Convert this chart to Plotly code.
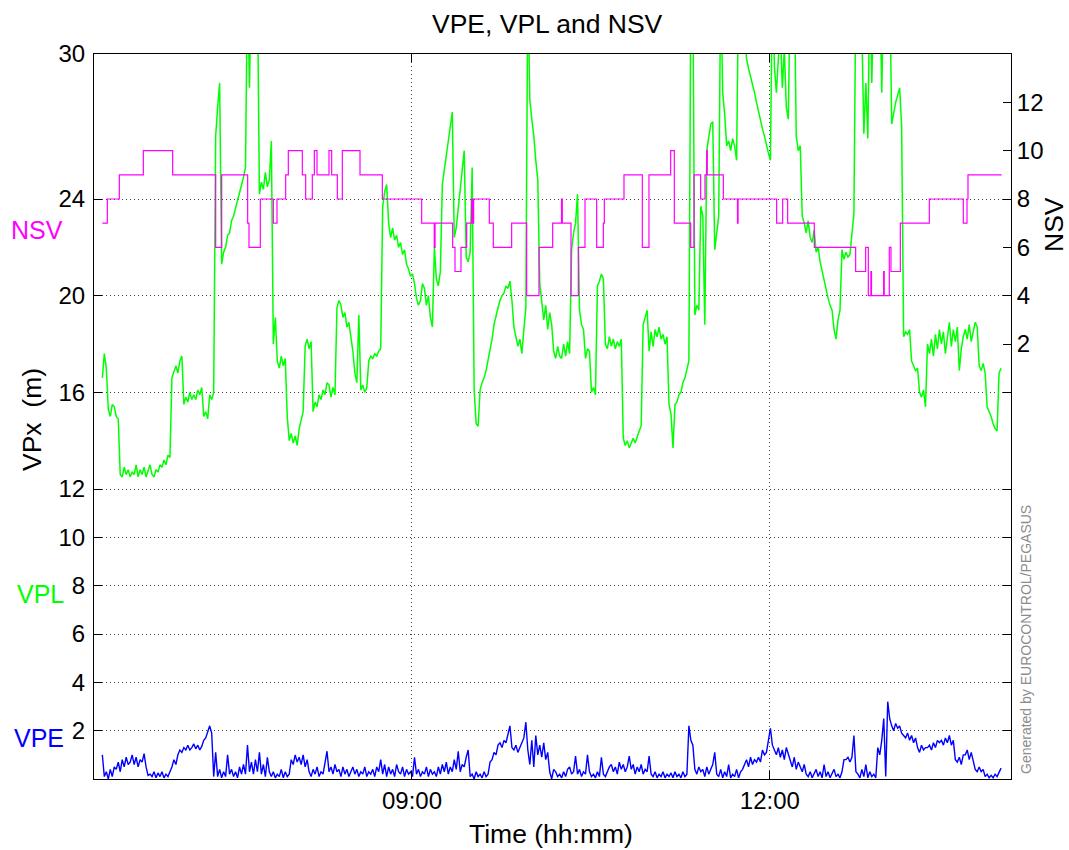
import numpy as np
import plotly.graph_objects as go

# ---------------- data ----------------
# samples every minute, starting at 06:24 (minutes after midnight)
t_start = 384.26
t_step = 1.0

vpl = [
    16.6, 17.6, 17.0, 15.3, 15.0, 15.5, 15.4, 15.0, 14.9, 12.6,
    12.5, 12.9, 12.6, 12.8, 12.5, 12.7, 12.6, 13.0, 12.5, 12.8, 12.6, 12.9, 12.5, 12.8, 13.0, 12.6,
    12.5, 12.8, 12.7, 13.0, 12.9, 13.2, 13.0, 13.4, 13.3,
    16.6, 16.9, 17.1, 16.8, 17.3, 17.5,
    15.5, 15.8, 15.6, 16.0, 15.7, 15.9, 15.7, 16.1, 15.9, 16.2,
    15.0, 15.2, 14.9, 15.9, 15.7, 16.0,
    26.6, 27.8, 28.8,
    21.3, 21.8, 22.0, 22.5, 22.6, 23.1, 23.3, 23.6, 24.0, 24.2, 24.6, 24.9, 25.3,
    33, 28.6, 33, 33, 33, 33,
    24.2, 24.7, 24.4, 25.1, 24.5, 24.8, 26.4, 18.0,
    19.1, 17.3, 17.0, 17.5, 17.1, 17.4,
    15.0, 14.0, 14.3, 13.9, 14.2, 13.8, 14.5, 14.9, 15.2,
    17.9, 18.2, 17.8, 18.1,
    15.2, 15.6, 15.4, 15.9, 15.7, 16.1, 15.9, 16.4, 16.3,
    15.8, 16.2, 15.9, 19.5, 19.8, 19.6,
    19.1, 19.3, 18.7, 18.9, 18.3, 17.7, 16.8, 16.4, 19.2,
    16.1, 16.3, 16.0, 16.2, 17.3, 17.5, 17.4, 17.6, 17.5, 17.7, 17.8,
    23.7, 24.3, 24.6, 23.0, 22.4, 22.8,
    22.3, 22.5, 22.0, 22.2, 21.7, 21.9, 21.3, 21.1, 20.8, 20.9, 20.5,
    19.9, 19.6, 19.8, 20.5, 20.3, 19.6, 20.0, 19.1, 18.7,
    22.0, 20.7, 20.4, 21.0, 24.6, 25.2, 25.8, 26.4, 27.0, 27.6,
    22.4, 22.8, 23.6, 24.4, 25.2, 26.0, 21.6, 21.4, 21.8, 25.3,
    16.1, 14.7, 14.6, 16.1, 16.4, 16.6, 16.9, 17.3, 17.7,
    18.2, 18.8, 19.2, 19.5, 19.8, 20.0, 20.1, 20.4, 20.3, 20.6,
    19.8, 18.7, 18.3, 17.9, 18.2, 17.6, 18.6, 19.5,
    33, 28.1, 27.3, 26.6, 25.6, 24.8, 20.5,
    19.8, 19.0, 19.6, 18.6, 19.3, 18.8, 17.7, 17.4, 17.9, 17.5,
    17.4, 18.0, 17.5, 18.1, 17.6, 21.9, 22.6, 23.0, 24.2,
    19.4, 18.8, 18.6, 17.4, 17.8, 17.7, 16.0, 16.2, 15.9,
    20.4, 20.6, 20.9, 20.7, 18.0,
    17.8, 18.3, 17.9, 18.2, 17.8, 18.1, 17.9, 18.2,
    14.1, 13.8, 14.0, 13.7, 13.9, 14.1, 13.9, 14.2, 14.4, 14.6,
    18.8, 19.1, 19.4, 17.7,
    18.5, 17.9, 18.6, 18.3, 18.7, 18.2, 18.4, 18.0, 18.3,
    15.5, 15.1, 13.7, 15.5, 15.6, 15.9, 16.0, 16.4, 16.6, 17.0, 17.3,
    33, 33, 19.2, 19.6, 19.4, 23.7, 23.3, 18.8,
    26.0, 26.6, 27.1, 27.2, 21.9, 22.6, 23.3,
    33, 28.4, 27.5, 26.2, 26.4, 26.0, 26.5, 26.2, 25.6,
    33, 33, 33, 31,
    29.8, 29.4, 29.1, 28.7, 28.4, 28.0, 27.6, 27.3, 26.9, 26.6, 26.2, 25.9, 25.6,
    33, 29.5, 28.4, 29.8, 31, 28.6, 30.2, 27.8, 27.3,
    33, 33, 33, 26.6, 26.0, 26.2,
    23.3, 23.0, 22.6, 23.1, 22.4, 22.2, 22.7, 21.8, 22.0,
    21.4, 21.0, 20.6, 20.3, 19.9, 19.6, 19.4, 18.6, 18.2, 19.0, 19.4,
    21.9, 21.5, 21.8, 21.6, 21.7, 22.5, 23.4,
    33, 33, 30.0, 31, 26.7, 28.8, 26.5, 33, 28.8,
    33, 33, 33, 33, 28.4, 33, 33, 33, 33,
    27.1, 27.6, 28.0, 28.3, 28.6, 27.0,
    18.3, 18.5, 18.4, 18.6, 17.3, 17.1, 16.9, 17.0, 16.0, 15.8, 16.1, 15.4,
    18.0, 17.6, 18.2, 17.5, 18.4, 17.8, 18.6,
    18.0, 18.5, 17.6, 18.3, 18.9, 17.9, 18.6, 18.1, 18.7,
    16.9, 17.8, 18.3, 18.6, 18.2, 18.8, 18.1, 18.5, 18.9, 18.7,
    17.1, 16.9, 17.2, 16.8, 15.4, 15.2, 15.0, 14.7, 14.5, 14.4, 16.8, 17.0,
]

vpe = [
    1.0, 0.1,
    0.3, 0.0, 0.4, 0.1, 0.5,
    0.4, 0.7, 0.3, 0.8, 0.5, 0.9, 0.6,
    0.7, 1.0, 0.6, 0.9, 0.5, 0.8, 0.7, 1.05,
    0.5, 0.15,
    0.2, 0.1, 0.3, 0.05, 0.25, 0.1, 0.3, 0.05, 0.2, 0.1, 0.3,
    0.5, 0.8, 0.6, 1.0, 1.2,
    1.1, 1.3, 1.2, 1.4, 1.2, 1.3, 1.45, 1.25, 1.4, 1.2, 1.35, 1.6,
    1.7, 2.0, 2.2, 1.9,
    0.1, 1.1,
    0.1, 0.4, 0.05, 0.3, 0.1, 1.0,
    0.2, 0.4, 0.1, 0.3, 0.05, 0.5, 0.2,
    0.6, 0.2, 1.4, 0.3, 0.7, 0.2,
    0.8, 0.3, 1.1, 0.2, 0.6, 0.1, 0.9, 0.3,
    0.1, 0.3, 0.05, 0.2, 0.1, 0.4, 0.05, 0.3, 0.1, 0.2,
    0.8, 0.6, 1.0, 0.7, 0.9, 0.6, 1.0, 0.5, 0.8,
    0.3, 0.1, 0.4, 0.2, 0.5, 0.1, 0.3, 0.2, 0.6, 1.15,
    0.3, 0.5, 0.2, 0.6, 0.3, 0.4, 0.1, 0.5, 0.2, 0.4, 0.1, 0.3, 0.5, 0.2, 0.4, 0.1, 0.3, 0.2, 0.5, 0.1, 0.3,
    0.2, 0.4, 0.1, 0.5, 0.3, 0.8, 0.2, 0.6, 0.1, 0.5, 0.2, 0.4, 0.1, 0.6, 0.3, 0.2, 0.5, 0.1, 0.4, 0.2,
    0.3, 0.1, 0.9, 0.2, 0.4, 0.1, 0.3, 0.2, 0.5, 0.1, 0.4, 0.2, 0.3, 0.1, 0.5, 0.2,
    0.6, 0.3, 0.7, 0.2, 0.5, 0.3, 0.8, 0.4, 1.15, 0.3, 0.6, 0.5, 0.9, 1.2,
    0.1, 0.2, 0.0, 0.3, 0.1, 0.2, 0.05, 0.3, 0.1, 0.2,
    0.7, 0.8, 1.1, 1.0, 1.4,
    1.5, 1.3, 1.6, 1.5, 1.8, 2.2,
    1.3, 1.2, 1.4, 1.1, 1.3, 1.5, 1.7,
    2.35,
    1.2, 0.6, 1.6, 0.5, 1.8, 1.0,
    1.4, 0.9, 1.5, 0.8, 1.1,
    0.3, 0.0, 0.4,
    0.3, 0.1, 0.2, 0.05, 0.3, 0.1, 0.4, 0.5,
    0.2, 0.3, 0.95, 0.2, 0.4, 0.1, 0.3, 0.2, 1.0, 0.3,
    0.1, 0.2, 0.05, 0.3, 0.1, 0.9, 0.2, 0.1, 0.3, 0.5,
    0.6, 0.3, 0.5, 0.2, 0.7, 0.4, 0.6, 0.3, 0.5, 0.95,
    0.4, 0.6, 0.2, 0.5, 0.3, 0.6, 0.2, 0.4, 0.3, 0.95,
    0.2, 0.1, 0.3, 0.05, 0.2, 0.1, 0.3, 0.05, 0.2, 0.1, 0.25, 0.05, 0.3, 0.1, 0.2, 0.05, 0.3, 0.1, 0.2, 2.2,
    1.6, 1.4,
    0.4, 0.2, 0.5, 0.3, 0.4, 0.1, 0.5, 0.2, 0.4, 0.6,
    1.1, 0.2, 0.1, 0.4, 0.05, 0.3, 0.1, 0.6, 0.05, 0.2, 0.1, 0.4, 0.05, 0.3, 0.4,
    0.6, 0.8, 0.5, 0.9, 0.6, 0.8, 0.7, 0.9, 0.7, 1.2, 1.0, 1.1,
    1.6, 2.1, 1.4,
    1.2, 1.0, 1.3, 0.9, 1.2, 0.8, 1.3, 1.0,
    0.7, 0.5, 0.9, 0.4, 0.7, 0.5, 0.3, 0.6, 0.2,
    0.1, 0.3, 0.05, 0.2, 0.4, 0.1, 0.3, 0.05, 0.6, 0.1, 0.3, 0.05, 0.2, 0.4, 0.1, 0.2, 0.05, 0.3, 0.8,
    0.8, 0.9, 0.7, 0.9, 1.8, 0.3,
    0.2, 0.05, 0.4, 0.1, 0.6, 0.05, 0.3, 0.1, 0.2, 0.05,
    1.3, 1.0, 1.6, 2.5,
    0.1,
    3.2, 2.5,
    2.2, 2.0, 2.3, 2.1, 2.2, 1.9,
    1.8, 1.7, 1.9, 1.6, 1.8, 1.5, 1.7,
    1.3, 1.1, 1.4, 1.2, 1.3,
    1.3, 1.4, 1.2, 1.5, 1.3, 1.6, 1.5,
    1.6, 1.4, 1.7, 1.5, 1.8, 1.4, 1.6,
    0.8, 0.7, 0.9, 0.6, 1.0,
    1.0, 1.2, 0.8, 1.1, 0.7,
    0.4, 0.3, 0.5, 0.3, 0.4,
    0.1, 0.2, 0.05, 0.15, 0.05, 0.2, 0.1, 0.3, 0.45,
]

# NSV: step change times (minutes after midnight) and satellite counts
nsv_t = [384.26, 386.77, 392.81, 404.88, 419.63, 441.26, 444.28, 457.35, 458.02, 463.72,
         470.26, 472.1, 476.46, 477.8, 484.84, 486.52, 489.87, 490.88, 492.22, 498.26,
         499.6, 502.45, 504.96, 513.85, 525.08, 544.86, 551.2, 551.6, 560.45, 561.63,
         564.64, 567.5, 570.0, 570.5, 571.0, 578.89, 580.9, 590.12, 597.67, 603.87,
         610.75, 615.2, 615.6, 619.97, 623.65, 627.01, 632.88, 636.23, 636.73, 646.62,
         655.84, 659.19, 670.09, 671.93, 680.15, 681.83, 685.18, 687.36, 688.2, 688.5,
         696.58, 703.7, 704.0, 723.4, 726.42, 728.93, 742.34, 763.13, 768.16, 769.5,
         770.8, 771.1, 777.2, 777.5, 780.06, 780.9, 785.6, 800.18, 817.28, 819.13,
         819.63, 836.56]
nsv_v = [7, 8, 9, 10, 9, 6, 9, 7, 6, 8,
         7, 8, 9, 10, 9, 8, 9, 10, 9, 10,
         9, 8, 10, 9, 8, 7, 6, 7, 6, 5,
         6, 7, 8, 7, 8, 7, 6, 7, 4, 6,
         7, 8, 7, 4, 6, 8, 6, 7, 8, 9,
         6, 9, 10, 7, 6, 9, 8, 9, 10, 9,
         8, 7, 8, 7, 8, 7, 6, 5, 6, 4,
         5, 4, 5, 4, 6, 5, 7, 8, 7, 8,
         9, 9]

x_tick_vals = [540, 720]
x_tick_text = ["09:00", "12:00"]
vpx_ticks = [2, 4, 6, 8, 10, 12, 16, 20, 24, 30]
nsv_ticks = [2, 4, 6, 8, 10, 12]

# ---------------- figure ----------------
W, H = 1069, 850
L, R, T, B = 94, 58, 54, 71
PW, PH = W - L - R, H - T - B


def px(x):
    return (x - L) / PW


def py(y):
    return (H - B - y) / PH


t_vpl = t_start + t_step * np.arange(len(vpl))
t_vpe = t_start + t_step * np.arange(len(vpe))

fig = go.Figure()
fig.add_trace(go.Scatter(x=t_vpl, y=vpl, mode="lines", line=dict(color="#00ff00", width=1.5), name="VPL"))
fig.add_trace(go.Scatter(x=t_vpe, y=vpe, mode="lines", line=dict(color="#0000ff", width=1.4), name="VPE"))
fig.add_trace(go.Scatter(x=nsv_t, y=nsv_v, mode="lines", line=dict(color="#ff00ff", width=1.2, shape="hv"),
                         name="NSV", yaxis="y2"))

FONT = "Liberation Sans, Arial, Helvetica, sans-serif"
FS = 24      # tick labels
FSL = 26.5   # title / axis labels
FSC = 25     # coloured series labels

fig.update_layout(
    width=W, height=H,
    margin=dict(l=L, r=R, t=T, b=B, pad=0, autoexpand=False),
    plot_bgcolor="white", paper_bgcolor="white",
    showlegend=False,
    font=dict(family=FONT, size=FS, color="black"),
    xaxis=dict(range=[380.07, 841.26], tickvals=x_tick_vals, ticktext=x_tick_text,
               ticks="inside", ticklen=8, tickcolor="black", tickwidth=1,
               showline=True, linecolor="black", linewidth=1, mirror="ticks",
               showgrid=True, gridcolor="#404040", gridwidth=1, griddash="1px,3px",
               zeroline=False, ticklabelstandoff=0, automargin=False),
    yaxis=dict(range=[0, 30], tickvals=vpx_ticks, ticktext=[str(v) for v in vpx_ticks],
               ticks="inside", ticklen=8, tickcolor="black", tickwidth=1,
               showline=True, linecolor="black", linewidth=1, mirror="ticks",
               showgrid=True, gridcolor="#404040", gridwidth=1, griddash="1px,3px",
               zeroline=False, ticklabelstandoff=3, automargin=False),
    yaxis2=dict(range=[-16, 14], tickvals=nsv_ticks, ticktext=[str(v) for v in nsv_ticks],
                overlaying="y", side="right", anchor="x",
                ticks="inside", ticklen=8, tickcolor="black", tickwidth=1,
                showline=True, linecolor="black", linewidth=1,
                showgrid=False, zeroline=False, ticklabelstandoff=0, automargin=False),
)

ann = [
    dict(text="VPE, VPL and NSV", x=px(547), y=py(24), xanchor="center", yanchor="middle",
         font=dict(family=FONT, size=FSL, color="black")),
    dict(text="Time (hh:mm)", x=px(551), y=py(834), xanchor="center", yanchor="middle",
         font=dict(family=FONT, size=FSL, color="black")),
    dict(text="VPx  (m)", x=px(32), y=py(420), xanchor="center", yanchor="middle", textangle=-90,
         font=dict(family=FONT, size=FSL, color="black")),
    dict(text="NSV", x=px(1054), y=py(225), xanchor="center", yanchor="middle", textangle=-90,
         font=dict(family=FONT, size=FSL, color="black")),
    dict(text="NSV", x=px(65), y=py(230), xanchor="right", yanchor="middle",
         font=dict(color="#ff00ff", size=FSC, family=FONT)),
    dict(text="VPL", x=px(66), y=py(594), xanchor="right", yanchor="middle",
         font=dict(color="#00ff00", size=FSC, family=FONT)),
    dict(text="VPE", x=px(66), y=py(738), xanchor="right", yanchor="middle",
         font=dict(color="#0000ff", size=FSC, family=FONT)),
    dict(text="Generated by EUROCONTROL/PEGASUS", x=px(1026), y=py(640), xanchor="center", yanchor="middle",
         textangle=-90, font=dict(color="#8c8c8c", size=14, family=FONT)),
]
for a in ann:
    fig.add_annotation(xref="paper", yref="paper", showarrow=False, **a)

fig.write_html("out.html", config={"displayModeBar": False},
               post_script="document.body.style.margin='0';document.body.style.overflow='hidden';")
